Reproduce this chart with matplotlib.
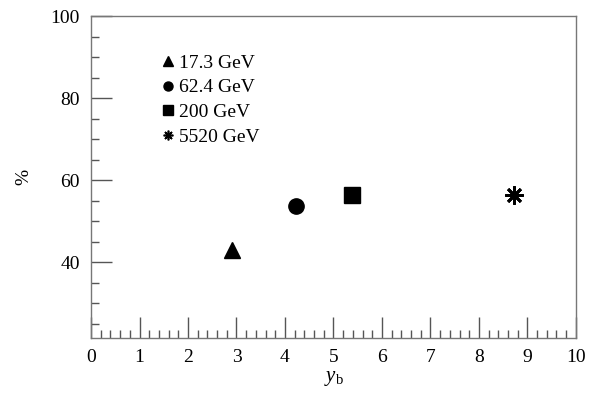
import matplotlib
matplotlib.use("Agg")
import matplotlib.pyplot as plt
from matplotlib.lines import Line2D
from matplotlib.ticker import MultipleLocator

# values
energies = ["17.3 GeV", "62.4 GeV", "200 GeV", "5520 GeV"]
y_beam = [2.91, 4.22, 5.38, 8.72]
percent = [42.9, 53.8, 56.3, 56.3]
markers = ["^", "o", "s", (8, 2, 0)]
sizes = [11, 11, 11, 13]

plt.rcParams["font.family"] = ["Liberation Serif", "DejaVu Serif"]
plt.rcParams["mathtext.fontset"] = "custom"
plt.rcParams["mathtext.it"] = "Liberation Serif:italic"
plt.rcParams["mathtext.rm"] = "Liberation Serif"

fig = plt.figure(figsize=(6.03, 4.03), dpi=100)
ax = fig.add_axes([0.151, 0.161, 0.804, 0.799])

handles = []
for x, y, lab, m, s in zip(y_beam, percent, energies, markers, sizes):
    star = isinstance(m, tuple)
    ax.plot([x], [y], linestyle="none", marker=m, markersize=s, color="black",
            markeredgewidth=2 if star else 1)
    handles.append(Line2D([], [], linestyle="none", marker=m, color="black",
                          markersize=7 if star else 6.5,
                          markeredgewidth=1.2 if star else 1, label=lab))

ax.set_xlim(0, 10)
ax.set_ylim(21.5, 100)
ax.xaxis.set_major_locator(MultipleLocator(1))
ax.xaxis.set_minor_locator(MultipleLocator(0.2))
ax.yaxis.set_major_locator(MultipleLocator(20))
ax.yaxis.set_minor_locator(MultipleLocator(5))
ax.tick_params(which="both", direction="in", top=False, right=False,
               color="#555555", labelsize=14, pad=8)
ax.tick_params(which="major", length=15, width=1)
ax.tick_params(which="minor", length=6, width=1)
ax.set_yticks([40, 60, 80, 100])
for sp in ax.spines.values():
    sp.set_color("#777777")
    sp.set_linewidth(1)

ax.set_xlabel(r"$y_{\mathrm{b}}$", fontsize=15, labelpad=2)
ax.set_ylabel("%", fontsize=14, labelpad=13)

ax.legend(handles=handles, loc="upper left", bbox_to_anchor=(0.11, 0.93),
          frameon=False, fontsize=14, handletextpad=0.2, handlelength=0.8,
          labelspacing=0.36, borderpad=0.3)

fig.savefig("out.png", dpi=100)
